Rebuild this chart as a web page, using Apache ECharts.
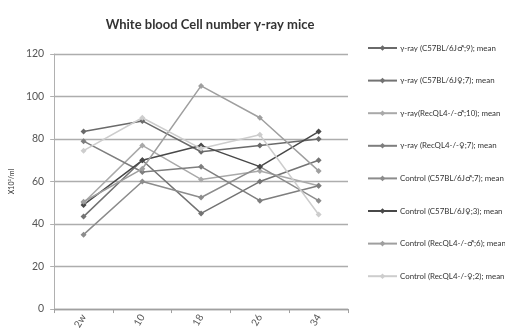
<!DOCTYPE html>
<html>
<head>
<meta charset="utf-8">
<script src="https://cdn.jsdelivr.net/npm/echarts@6/dist/echarts.min.js"></script>
<style>
    html, body{ margin: 0; padding: 0; background: #fff; }
    #chart{ width: 505px; height: 332px; }
</style>
</head>
<body>
<div id="chart"></div>
<script>
// weeks after irradiation
const weeks = ['2w', '10', '18', '26', '34'];
const yTicks = [0, 20, 40, 60, 80, 100, 120];

const seriesNames = [
    'γ-ray (C57BL/6J♂;9); mean',
    'γ-ray (C57BL/6J♀;7); mean',
    'γ-ray(RecQL4-/-♂;10); mean',
    'γ-ray (RecQL4-/-♀;7); mean',
    'Control (C57BL/6J♂;7); mean',
    'Control (C57BL/6J♀;3); mean',
    'Control (RecQL4-/-♂;6); mean',
    'Control (RecQL4-/-♀;2); mean'
];

const gammaB6Male = [83.5, 88.5, 74, 77, 80];
const gammaB6Female = [43.5, 70, 45, 60, 70];
const gammaRecMale = [50, 77, 61, 65, 58];
const gammaRecFemale = [79, 64.5, 67, 51, 58];
const ctrlB6Male = [35, 60, 52.5, 67, 51];
const ctrlB6Female = [49, 70, 77, 67, 83.5];
const ctrlRecMale = [50.5, 66, 105, 90, 65];
const ctrlRecFemale = [74.5, 90, 75.5, 82, 44.5];

const seriesData = [gammaB6Male, gammaB6Female, gammaRecMale, gammaRecFemale,
    ctrlB6Male, ctrlB6Female, ctrlRecMale, ctrlRecFemale];
const colors = ['#6a6a6a', '#737373', '#a9a9a9', '#7e7e7e',
    '#8c8c8c', '#484848', '#9f9f9f', '#cdcdcd'];

const chart = echarts.init(document.getElementById('chart'));
chart.setOption({
    animation: false,
    textStyle: { fontFamily: 'Lato, "DejaVu Sans", sans-serif' },
    title: {
        text: 'White blood Cell number γ-ray mice',
        left: 205,
        top: 13,
        textAlign: 'center',
        textStyle: { fontSize: 13, fontWeight: 'bold', color: '#333' }
    },
    grid: { left: 53, right: 157, top: 54, bottom: 21 },
    legend: {
        orient: 'vertical',
        left: 362,
        top: 39,
        itemWidth: 29,
        itemHeight: 7,
        itemGap: 24.6,
        textStyle: { fontSize: 7.9, color: '#333', padding: [0, 0, 0, -2] },
        data: seriesNames
    },
    xAxis: {
        type: 'category',
        data: weeks,
        boundaryGap: true,
        axisLine: { lineStyle: { color: '#a0a0a0', width: 1.3 } },
        axisTick: { show: true, length: 4, lineStyle: { color: '#a0a0a0' } },
        axisLabel: { rotate: 60, fontSize: 10, color: '#555', margin: 6 }
    },
    yAxis: {
        type: 'value',
        min: yTicks[0],
        max: yTicks[yTicks.length - 1],
        interval: 20,
        name: 'X10³/ml',
        nameLocation: 'middle',
        nameGap: 34,
        nameRotate: 90,
        nameTextStyle: { fontSize: 7, color: '#333' },
        axisLine: { show: true, lineStyle: { color: '#b0b0b0' } },
        axisTick: { show: true, length: 4, lineStyle: { color: '#b0b0b0' } },
        axisLabel: { fontSize: 10.5, color: '#555', margin: 10 },
        splitLine: { lineStyle: { color: '#adadad', width: 1.3 } }
    },
    series: seriesData.map(function(d, i){
        return {
            name: seriesNames[i],
            type: 'line',
            data: d,
            symbol: 'diamond',
            symbolSize: 6,
            color: colors[i],
            lineStyle: { width: 1.5, color: colors[i] },
            itemStyle: { color: colors[i] }
        };
    })
});
</script>
</body>
</html>
